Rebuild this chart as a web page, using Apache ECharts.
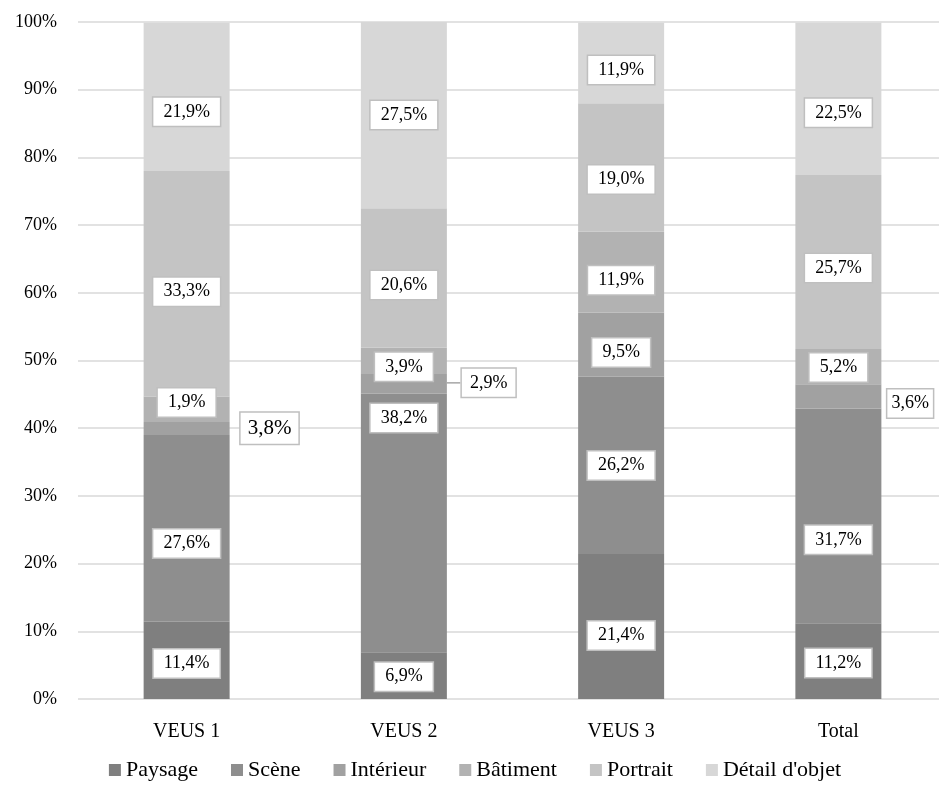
<!DOCTYPE html>
<html><head><meta charset="utf-8">
<script src="https://cdn.jsdelivr.net/npm/echarts@6/dist/echarts.min.js"></script>
<style>html,body{margin:0;padding:0;background:#fff;overflow:hidden}#c{width:950px;height:788px}</style>
</head><body><div id="c"></div>
<script>
var categories = ['VEUS 1', 'VEUS 2', 'VEUS 3', 'Total'];
var seriesNames = ['Paysage', 'Scène', 'Intérieur', 'Bâtiment', 'Portrait', "Détail d'objet"];
var paysage   = [11.4, 6.9, 21.4, 11.2];
var scene     = [27.6, 38.2, 26.2, 31.7];
var interieur = [1.9, 2.9, 9.5, 3.6];
var batiment  = [3.8, 3.9, 11.9, 5.2];
var portrait  = [33.3, 20.6, 19.0, 25.7];
var detail    = [21.9, 27.5, 11.9, 22.5];
var yTicks = [0, 10, 20, 30, 40, 50, 60, 70, 80, 90, 100];

var values = [paysage, scene, interieur, batiment, portrait, detail];
var colors = ['#7f7f7f', '#8e8e8e', '#a1a1a1', '#b2b2b2', '#c4c4c4', '#d7d7d7'];
// label placement tweaks (styling only): [seriesIndex][catIndex] = dy
var labelShift = [
  [3, 1, 9, 2],
  [15, -105, 0, 24],
  [-26, 0, 8, 0],
  [0, 6, 8, 1],
  [8, 7, 12, 6],
  [15, 0, 7, 14]
];
// callout labels (to the right of the bar)
var callouts = {'3-0': {dist: 11, dy: 19, size: 21, line: false, pad: [6, 7, 4, 7]},
                '2-1': {dist: 15, dy: -1, size: 18, line: true, pad: [6, 8, 4, 8]},
                '2-3': {dist: 6, dy: 7, size: 18, line: false, pad: [6, 4, 4, 4]}};

var FONT = 'Liberation Serif';
function fmt(v){ return v.toFixed(1).replace('.', ',') + '%'; }

var series = values.map(function(arr, si){
  return {
    name: seriesNames[si],
    type: 'bar',
    stack: 'all',
    barWidth: 86,
    itemStyle: {color: colors[si]},
    data: arr.map(function(v, ci){
      var item = {value: v};
      var c = callouts[si + '-' + ci];
      if (c) {
        item.label = {position: 'right', distance: c.dist, fontSize: c.size,
                      fontFamily: FONT, padding: c.pad};
        if (c.line) item.labelLine = {show: true, lineStyle: {color: '#a6a6a6', width: 1.5}};
      }
      return item;
    }),
    labelLayout: function(p){
      var c = callouts[p.seriesIndex + '-' + p.dataIndex];
      if (c) return {dy: c.dy};
      return {dy: labelShift[p.seriesIndex][p.dataIndex]};
    },
    label: {
      show: true, position: 'inside', color: '#000', fontFamily: FONT, fontSize: 18,
      backgroundColor: '#fff', borderColor: '#bfbfbf', borderWidth: 1.5,
      padding: [6, 10, 4, 10],
      formatter: function(p){ return fmt(p.value); }
    }
  };
});

var chart = echarts.init(document.getElementById('c'), null, {renderer: 'canvas'});
chart.setOption({
  animation: false,
  textStyle: {fontFamily: FONT},
  grid: {left: 78, right: 3, top: 22, bottom: 89, containLabel: false},
  legend: {
    data: seriesNames, bottom: 2, left: 'center', icon: 'rect', itemWidth: 12, itemHeight: 12,
    itemGap: 33, textStyle: {fontFamily: FONT, fontSize: 22, color: '#000'}
  },
  xAxis: {
    type: 'category', data: categories,
    axisLine: {show: false}, axisTick: {show: false},
    axisLabel: {fontFamily: FONT, fontSize: 20, color: '#000', margin: 23}
  },
  yAxis: {
    type: 'value', min: yTicks[0], max: yTicks[yTicks.length-1], interval: 10,
    axisLine: {show: false}, axisTick: {show: false},
    splitLine: {lineStyle: {color: '#d9d9d9', width: 1.5}},
    axisLabel: {fontFamily: FONT, fontSize: 18, color: '#000', margin: 21, formatter: '{value}%'}
  },
  series: series
});
</script></body></html>
